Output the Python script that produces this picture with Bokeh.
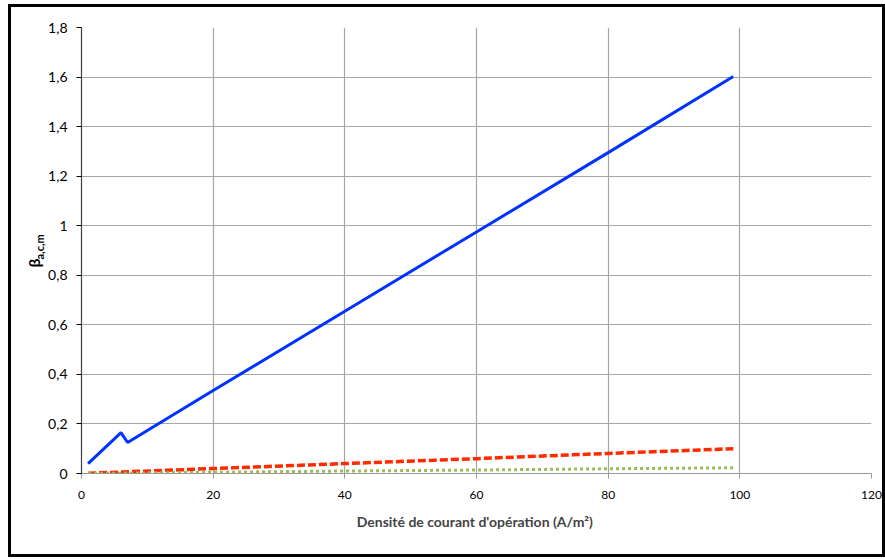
from bokeh.plotting import figure
from bokeh.models import Range1d, FixedTicker, CustomJSTickFormatter, Title
from bokeh.embed import file_html
from bokeh.resources import INLINE

# Data
blue_x = [1, 6, 7, 20, 40, 60, 80, 99]
blue_y = [0.04, 0.165, 0.125, 0.335, 0.655, 0.975, 1.295, 1.602]
red_x = [1, 20, 40, 60, 80, 99]
red_y = [0.001, 0.02, 0.04, 0.06, 0.081, 0.1]
green_x = [1, 20, 40, 60, 80, 99]
green_y = [0.0003, 0.005, 0.01, 0.014, 0.019, 0.023]
x_ticks = [0, 20, 40, 60, 80, 100, 120]
y_ticks = [0, 0.2, 0.4, 0.6, 0.8, 1.0, 1.2, 1.4, 1.6, 1.8]

FONT = "Lato"

p = figure(width=877, height=553, output_backend="svg", toolbar_location=None,
           x_range=Range1d(0, 120), y_range=Range1d(0, 1.8),
           min_border_left=70, min_border_right=17, min_border_top=20, min_border_bottom=87)
p.styles = {"border": "3px solid black", "box-sizing": "border-box",
            "margin-left": "8px", "margin-top": "4px"}
p.outline_line_color = None
p.background_fill_color = "white"

p.line(blue_x, blue_y, line_color="#0033ff", line_width=3)
p.line(red_x, red_y, line_color="#ff2a00", line_width=3.5, line_dash="8 3")
p.line(green_x, green_y, line_color="#9bbb59", line_width=3, line_dash="3 3")

p.xaxis.ticker = FixedTicker(ticks=x_ticks)
p.yaxis.ticker = FixedTicker(ticks=y_ticks)
p.xaxis.minor_tick_line_color = None
p.yaxis.minor_tick_line_color = None
p.yaxis.formatter = CustomJSTickFormatter(code="var s = (Math.round(tick*10)/10).toString(); return s.replace('.', ',');")

p.xgrid.grid_line_color = "#a6a6a6"
p.ygrid.grid_line_color = "#a6a6a6"
p.xgrid.grid_line_width = 1.2
p.ygrid.grid_line_width = 1.2

p.xaxis.axis_line_color = "#9a9a9a"
p.xaxis.major_tick_line_color = "#9a9a9a"
p.xaxis.major_tick_out = 5
p.xaxis.major_tick_in = 0
p.yaxis.axis_line_color = "#404040"
p.yaxis.major_tick_line_color = "black"
p.yaxis.major_tick_out = 5
p.yaxis.major_tick_in = 0
p.yaxis.axis_line_width = 1.2

p.xaxis.major_label_text_font = FONT
p.yaxis.major_label_text_font = FONT
p.xaxis.major_label_text_font_size = "12px"
p.yaxis.major_label_text_font_size = "14px"
p.xaxis.major_label_standoff = 12
p.yaxis.major_label_standoff = 9
p.xaxis.major_label_text_color = "black"
p.yaxis.major_label_text_color = "black"

p.xaxis.axis_label = "Densité de courant d'opération  (A/m²)"
p.xaxis.axis_label_text_font = FONT
p.xaxis.axis_label_text_font_style = "bold"
p.xaxis.axis_label_text_font_size = "14px"
p.xaxis.axis_label_standoff = 11

t_sub = Title(text="a,c,m", align="left", offset=214, vertical_align="bottom", standoff=0,
              text_font=FONT, text_font_style="bold", text_font_size="11px", text_color="black")
t_beta = Title(text="β", align="left", offset=206, vertical_align="bottom", standoff=-24,
               text_font=FONT, text_font_style="bold", text_font_size="16px", text_color="black")
p.add_layout(t_sub, "left")
p.add_layout(t_beta, "left")

open("out.html", "w").write(file_html(p, INLINE))
